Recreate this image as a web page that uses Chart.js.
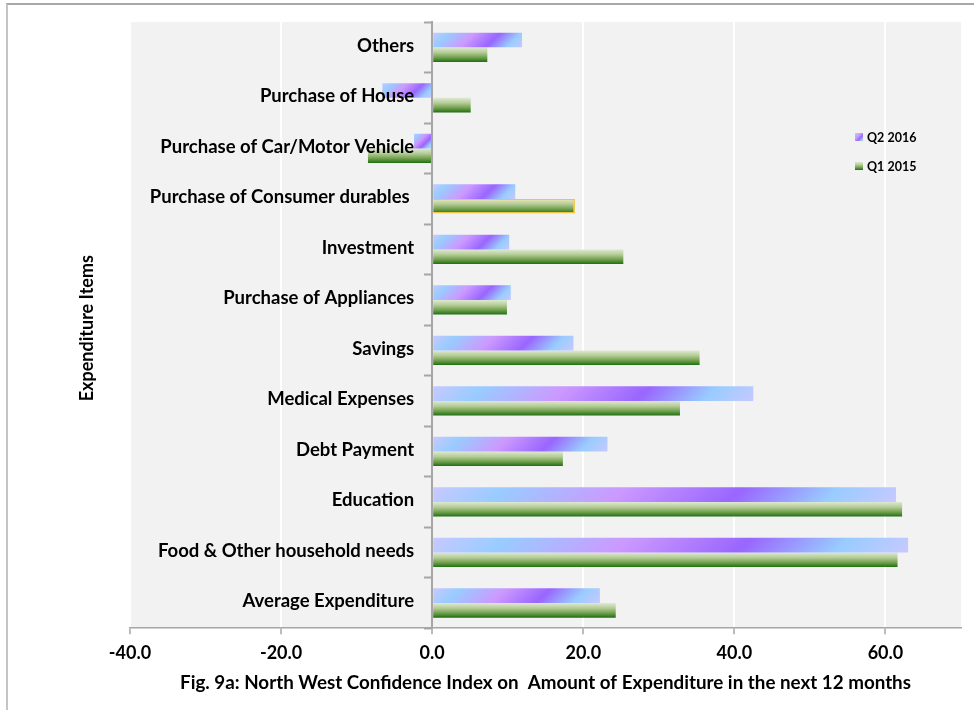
<!DOCTYPE html>
<html>
<head>
<meta charset="utf-8">
<script src="https://cdn.jsdelivr.net/npm/chart.js@4.4.1/dist/chart.umd.min.js"></script>
<style>
  html, body { margin: 0; padding: 0; background: #ffffff; width: 974px; height: 710px; overflow: hidden; }
  #frame { position: absolute; left: 6px; top: 3px; width: 990px; height: 730px;
           border-left: 2px solid #c4c4c4; border-top: 2px solid #a8a8a8; }
  #wrap { position: absolute; left: 0; top: 0; width: 974px; height: 710px; }
</style>
</head>
<body>
<div id="frame"></div>
<div id="wrap"><canvas id="chart" width="974" height="710"></canvas></div>
<script>
// Expenditure items, listed top to bottom
const categories = [
  'Others',
  'Purchase of House',
  'Purchase of Car/Motor Vehicle',
  'Purchase of Consumer durables ',
  'Investment',
  'Purchase of Appliances',
  'Savings',
  'Medical Expenses',
  'Debt Payment',
  'Education',
  'Food & Other household needs',
  'Average Expenditure'
];

const seriesNames = ['Q2 2016', 'Q1 2015'];

// Confidence index values per item
const q2_2016 = [11.9, -6.6, -2.4, 11.0, 10.2, 10.4, 18.7, 42.5, 23.2, 61.4, 63.0, 22.2];
const q1_2015 = [7.3, 5.1, -8.5, 18.9, 25.3, 9.9, 35.4, 32.8, 17.3, 62.2, 61.6, 24.3];

// Value axis tick labels
const xTickValues = [-40, -20, 0, 20, 40, 60];

const xTitle = 'Fig. 9a: North West Confidence Index on  Amount of Expenditure in the next 12 months';
const yTitle = 'Expenditure Items';

// The Consumer durables bar of the earlier quarter carries an outline
const outlinedItem = 3;

const FONT = "Lato, 'Liberation Sans', sans-serif";
const Y_TICK_LEN = 7;
const Y_TICK_PAD = 11;

function purpleGradient(c, L, T, w, h) {
  const s = (w + h) / 2;
  const g = c.createLinearGradient(L, T, L + s, T + s);
  g.addColorStop(0.00, '#c7c9ff');
  g.addColorStop(0.15, '#99ccff');
  g.addColorStop(0.40, '#cc99ff');
  g.addColorStop(0.65, '#9966ff');
  g.addColorStop(0.85, '#99ccff');
  g.addColorStop(1.00, '#c7c9ff');
  return g;
}

function greenGradient(c, T, B) {
  const g = c.createLinearGradient(0, T, 0, B);
  g.addColorStop(0.00, '#dfe9d3');
  g.addColorStop(0.35, '#b4cc96');
  g.addColorStop(0.70, '#6f9f4b');
  g.addColorStop(1.00, '#1d6e12');
  return g;
}

// Light grey plot background
const plotBackground = {
  id: 'plotBackground',
  beforeDraw(chart) {
    const {ctx, chartArea: a} = chart;
    ctx.save();
    ctx.fillStyle = '#f2f2f2';
    ctx.fillRect(a.left, a.top, a.right - a.left, a.bottom - a.top);
    ctx.restore();
  }
};

// The item axis sits at zero; keep its labels clear of the tick marks
const itemLabelOffset = {
  id: 'itemLabelOffset',
  beforeDraw(chart) {
    const scale = chart.scales.y;
    const items = scale.getLabelItems(chart.chartArea);
    if (items._offsetDone) return;
    items.forEach(it => {
      it.options.translation[0] -= (Y_TICK_LEN + Y_TICK_PAD);
      it.options.translation[1] -= 1.5;
    });
    items._offsetDone = true;
  }
};

// Gradient fills computed from each bar's own geometry
const barPaint = {
  id: 'barPaint',
  beforeDatasetsDraw(chart) {
    const c = chart.ctx;
    chart.data.datasets.forEach((ds, di) => {
      const meta = chart.getDatasetMeta(di);
      meta.data.forEach(el => {
        const p = el.getProps(['x', 'y', 'base', 'height'], true);
        const L = Math.min(p.x, p.base), R = Math.max(p.x, p.base);
        const T = p.y - p.height / 2, B = p.y + p.height / 2;
        const fill = di === 0 ? purpleGradient(c, L, T, R - L, B - T) : greenGradient(c, T, B);
        el.options = Object.assign({}, el.options, {backgroundColor: fill});
      });
    });
  }
};

// Legend inside the plot and the rotated item-axis title
const annotations = {
  id: 'annotations',
  afterDraw(chart) {
    const {ctx, chartArea: a} = chart;
    ctx.save();
    ctx.fillStyle = '#000';
    ctx.font = "bold 18px " + FONT;
    ctx.textAlign = 'center';
    ctx.textBaseline = 'middle';
    ctx.translate(87, (a.top + a.bottom) / 2 + 3);
    ctx.rotate(-Math.PI / 2);
    ctx.fillText(yTitle, 0, 0);
    ctx.restore();

    ctx.save();
    const lx = a.right - 106;
    const rows = [137, 166];
    ctx.font = "bold 12.5px " + FONT;
    ctx.textAlign = 'left';
    ctx.textBaseline = 'middle';
    chart.data.datasets.forEach((ds, i) => {
      const y = rows[i];
      const T = y - 4, B = y + 4;
      ctx.fillStyle = i === 0 ? purpleGradient(ctx, lx, T, 8, 8) : greenGradient(ctx, T, B);
      ctx.fillRect(lx, T, 8, 8);
      ctx.fillStyle = '#000';
      ctx.fillText(ds.label, lx + 12, y + 1);
    });
    ctx.restore();
  }
};

new Chart(document.getElementById('chart'), {
  type: 'bar',
  data: {
    labels: categories,
    datasets: [
      { label: seriesNames[0], data: q2_2016, backgroundColor: '#a88cff', borderWidth: 0 },
      { label: seriesNames[1], data: q1_2015, backgroundColor: '#6f9f4b',
        borderColor: categories.map((_, i) => i === outlinedItem ? '#f0c640' : 'rgba(0,0,0,0)'),
        borderWidth: categories.map((_, i) => i === outlinedItem ? 1.5 : 0) }
    ]
  },
  options: {
    indexAxis: 'y',
    responsive: false,
    animation: false,
    layout: { padding: { left: 130, right: 13, top: 19, bottom: 12.6 } },
    datasets: { bar: { categoryPercentage: 0.58, barPercentage: 1 } },
    plugins: { legend: { display: false }, tooltip: { enabled: false } },
    scales: {
      x: {
        type: 'linear',
        min: -40,
        max: 70,
        afterBuildTicks: s => { s.ticks = xTickValues.map(v => ({ value: v })); },
        grid: { color: '#ffffff', lineWidth: 2, tickColor: '#a6a6a6', tickLength: 6, tickWidth: 1.5 },
        border: { color: '#a6a6a6', width: 1.5 },
        ticks: { color: '#000', padding: 8, font: { family: FONT, size: 18, weight: 'bold' },
                 callback: v => Number(v).toFixed(1) },
        title: { display: true, text: xTitle, color: '#000',
                 font: { family: FONT, size: 18.8, weight: 'bold' }, padding: { top: 0, bottom: 3 } }
      },
      y: {
        type: 'category',
        position: { x: 0 },
        grid: { z: 1, drawOnChartArea: false, offset: true, tickLength: Y_TICK_LEN, tickColor: '#a6a6a6', tickWidth: 2 },
        border: { z: 1, color: '#a6a6a6', width: 2 },
        ticks: { z: 1, color: '#000', padding: Y_TICK_PAD, autoSkip: false,
                 font: { family: FONT, size: 18.5, weight: 'bold' } }
      }
    }
  },
  plugins: [plotBackground, itemLabelOffset, barPaint, annotations]
});
</script>
</body>
</html>
